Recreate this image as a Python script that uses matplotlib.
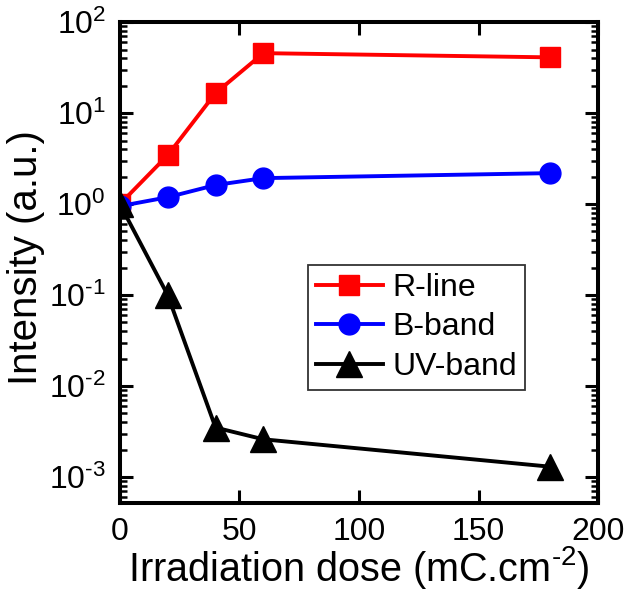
import matplotlib
matplotlib.use("Agg")
import matplotlib.pyplot as plt
from matplotlib.ticker import LogLocator, NullFormatter

plt.rcParams['font.family'] = ['Liberation Sans', 'DejaVu Sans']
plt.rcParams['mathtext.fontset'] = 'custom'
plt.rcParams['mathtext.rm'] = 'Liberation Sans'
plt.rcParams['mathtext.it'] = 'Liberation Sans'
plt.rcParams['mathtext.default'] = 'regular'

dose = [0, 20, 40, 60, 180]
r_line = [1.0, 3.45, 16.6, 45.6, 41.0]
b_band = [0.95, 1.19, 1.62, 1.93, 2.19]
uv_band = [1.0, 0.1, 0.0035, 0.0026, 0.0013]

xticks = [0, 50, 100, 150, 200]
yticks = [1e-3, 1e-2, 1e-1, 1e0, 1e1, 1e2]
ytick_labels = ['$10^{\u2010 3}$', '$10^{\u2010 2}$', '$10^{\u2010 1}$', '$10^{0}$', '$10^{1}$', '$10^{2}$']

fig = plt.figure(figsize=(6.31, 5.98), dpi=100)
ax = fig.add_axes([0.190, 0.159, 0.758, 0.804])

ax.plot(dose, r_line, color='#ff0000', marker='s', markersize=14, lw=2.8, label='R-line')
ax.plot(dose, b_band, color='#0000ff', marker='o', markersize=15, lw=2.8, label='B-band')
ax.plot(dose, uv_band, color='black', marker='^', markersize=19, lw=2.8, label='UV-band')

ax.set_yscale('log')
ax.set_xlim(0, 200)
ax.set_ylim(5.2e-4, 1e2)
ax.set_xticks(xticks)
ax.set_xticklabels([str(t) for t in xticks])
ax.set_yticks(yticks)
ax.set_yticklabels(ytick_labels)
ax.yaxis.set_minor_locator(LogLocator(base=10, subs=range(2, 10), numticks=20))
ax.yaxis.set_minor_formatter(NullFormatter())

ax.tick_params(which='major', direction='in', length=9.5, width=2.2, top=True, right=True,
               labelsize=23)
ax.tick_params(axis='x', which='major', pad=10)
ax.tick_params(axis='y', which='major', pad=10)
ax.tick_params(which='minor', direction='in', length=5, width=1.8, top=True, right=True)
for s in ax.spines.values():
    s.set_linewidth(2.9)

ax.set_xlabel('Irradiation dose (mC.cm$^{\u2010 2}$)', fontsize=28.5, labelpad=-2)
ax.set_ylabel('Intensity (a.u.)', fontsize=29)
ax.yaxis.set_label_coords(-0.157, 0.511)

leg = ax.legend(loc='upper left', bbox_to_anchor=(0.393, 0.495), fontsize=23, frameon=True,
                fancybox=False, edgecolor='black', handlelength=2.1, borderpad=0.25,
                labelspacing=0.3, handletextpad=0.3, borderaxespad=0)
leg.get_frame().set_linewidth(1.3)

fig.savefig('out.png', dpi=100)
